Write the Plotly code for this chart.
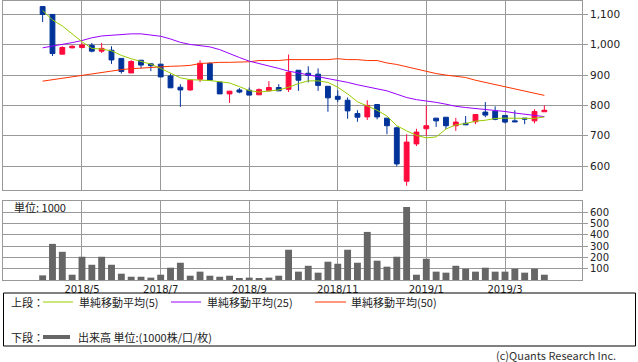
import plotly.graph_objects as go

W, H = 638, 362

dates = ["2018-04-09","2018-04-16","2018-04-23","2018-04-30","2018-05-07","2018-05-14","2018-05-21","2018-05-28",
         "2018-06-04","2018-06-11","2018-06-18","2018-06-25","2018-07-02","2018-07-09","2018-07-16","2018-07-23",
         "2018-07-30","2018-08-06","2018-08-13","2018-08-20","2018-08-27","2018-09-03","2018-09-10","2018-09-17",
         "2018-09-24","2018-10-01","2018-10-08","2018-10-15","2018-10-22","2018-10-29","2018-11-05","2018-11-12",
         "2018-11-19","2018-11-26","2018-12-03","2018-12-10","2018-12-17","2018-12-24","2018-12-31","2019-01-07",
         "2019-01-14","2019-01-21","2019-01-28","2019-02-04","2019-02-11","2019-02-18","2019-02-25","2019-03-04",
         "2019-03-11","2019-03-18","2019-03-25","2019-04-01"]

open_ = [1126,1100,969,990,991,998,979,982,955,907,949,937,936,897,860,851,886,938,877,838,851,850,835,848,859,853,
         916,906,903,863,830,817,773,762,803,758,726,550,673,723,758,761,733,741,746,778,781,767,749,758,749,779]
high = [1126,1100,995,998,1006,1006,1006,995,955,949,949,940,936,905,870,885,949,942,877,847,857,859,856,880,870,968,
        916,929,922,863,850,826,784,817,803,758,730,705,723,800,758,761,759,765,770,811,797,767,784,758,787,800]
low = [1075,963,969,988,988,975,973,937,905,907,922,913,894,858,795,848,877,883,838,808,840,834,835,848,848,844,
       848,876,848,779,811,756,746,752,754,705,599,535,666,699,729,722,716,736,738,761,751,741,746,738,741,779]
close = [1100,971,991,995,999,979,988,950,912,945,933,931,894,858,851,883,939,883,838,847,844,834,852,859,848,909,
         883,899,866,825,820,782,761,800,762,733,607,679,712,733,749,733,745,736,770,768,754,745,746,755,780,784]

ma5 = [1113,1082,1062,1036,1010,988,986,980,965,954,946,936,922,906,891,885,884,882,878,874,862,849,844,847,851,860,
       872,881,881,876,860,838,812,798,784,765,733,716,701,693,696,722,736,740,748,751,757,758,758,756,757,762]
ma25 = [990,995,1001,1007,1014,1023,1029,1032,1034,1036,1036,1033,1028,1019,1008,1001,998,993,984,970,958,946,937,930,
        922,913,907,901,896,889,884,876,868,862,856,848,837,826,819,815,810,804,797,793,790,786,782,780,775,771,768,763]
ma50 = [880,885,888,894,898,903,909,913,918,921,923,927,927,929,930,932,938,941,942,942,942,944,948,948,948,951,
        951,951,951,951,954,951,951,948,948,940,935,927,920,913,905,900,896,892,883,876,869,861,854,848,841,833]
volume = [41,320,250,47,206,135,206,135,56,29,29,21,47,109,153,38,74,38,29,38,12,21,12,21,38,268,74,126,65,
          162,144,268,153,426,171,118,206,647,47,188,74,65,126,100,74,109,74,74,100,65,100,47]

month_ticks = ["2018-05-07","2018-07-02","2018-09-03","2018-11-05","2019-01-07","2019-03-04"]
month_labels = ["2018/5","2018/7","2018/9","2018/11","2019/1","2019/3"]
price_ticks = [600,700,800,900,1000,1100]
price_labels = ["600","700","800","900","1,000","1,100"]
vol_ticks = [100,200,300,400,500,600]

RED = "#ff0a3c"
BLUE = "#003399"
C5 = "#99cc00"
C25 = "#9900ff"
C50 = "#ff3300"
GRID = "#999999"
TXT = "#222222"
FONT = "DejaVu Sans"
JFONT = "Noto Sans CJK JP"

fig = go.Figure()
fig.add_trace(go.Candlestick(
    x=dates, open=open_, high=high, low=low, close=close,
    increasing=dict(line=dict(color=RED, width=1), fillcolor=RED),
    decreasing=dict(line=dict(color=BLUE, width=1), fillcolor=BLUE),
    whiskerwidth=0, showlegend=False, hoverinfo="skip", xaxis="x", yaxis="y"))
for ma, col in [(ma50, C50), (ma25, C25), (ma5, C5)]:
    fig.add_trace(go.Scatter(x=dates, y=ma, mode="lines", line=dict(color=col, width=1),
                             showlegend=False, hoverinfo="skip", xaxis="x", yaxis="y"))
fig.add_trace(go.Bar(x=dates, y=volume, marker=dict(color="#666666", line=dict(width=0)),
                     width=7 * 0.7 * 86400000, showlegend=False, hoverinfo="skip",
                     xaxis="x2", yaxis="y2"))

xr = ["2018-03-11 19:00", "2019-04-27 19:00"]
xd = [3 / W, 582 / W]

def py(p):
    return 1 - p / H

common_x = dict(type="date", range=xr, domain=xd, tickvals=month_ticks, showgrid=True,
                gridcolor=GRID, gridwidth=1, showline=True, mirror=True, linecolor=GRID,
                linewidth=1, ticks="", zeroline=False)

fig.update_layout(
    width=W, height=H, margin=dict(l=0, r=0, t=0, b=0),
    paper_bgcolor="white", plot_bgcolor="white", showlegend=False,
    xaxis=dict(**common_x, anchor="y", showticklabels=False, rangeslider=dict(visible=False)),
    yaxis=dict(domain=[py(190), py(0.5)], range=[521, 1146], side="right", anchor="x",
               tickvals=price_ticks, ticktext=price_labels, ticks="outside", ticklen=5,
               tickcolor=GRID, showgrid=True, gridcolor=GRID, showline=True, mirror=True,
               linecolor=GRID, zeroline=False, tickfont=dict(family=FONT, size=10.5, color=TXT)),
    xaxis2=dict(**common_x, anchor="y2", showticklabels=True, ticktext=month_labels,
                tickfont=dict(family=FONT, size=10, color=TXT)),
    yaxis2=dict(domain=[py(280), py(201)], range=[0, 700], side="right", anchor="x2",
                tickvals=vol_ticks, ticks="outside", ticklen=5, tickcolor=GRID,
                showgrid=True, gridcolor=GRID, showline=True, mirror=True, linecolor=GRID,
                zeroline=False, tickfont=dict(family=FONT, size=10, color=TXT)),
)

shapes = [
    dict(type="rect", xref="paper", yref="paper", x0=3.5 / W, x1=635.5 / W, y0=py(346), y1=py(293),
         line=dict(color="#000000", width=1), fillcolor="rgba(0,0,0,0)"),
    dict(type="line", xref="paper", yref="paper", x0=43 / W, x1=73 / W, y0=py(302), y1=py(302),
         line=dict(color=C5, width=1)),
    dict(type="line", xref="paper", yref="paper", x0=171 / W, x1=201 / W, y0=py(302), y1=py(302),
         line=dict(color=C25, width=1)),
    dict(type="line", xref="paper", yref="paper", x0=315 / W, x1=346 / W, y0=py(302), y1=py(302),
         line=dict(color=C50, width=1)),
    dict(type="line", xref="paper", yref="paper", x0=43 / W, x1=70 / W, y0=py(337), y1=py(337),
         line=dict(color="#666666", width=4)),
]
fig.update_layout(shapes=shapes)

def ann(text, x, y, size=11, xanchor="left", color=TXT, family=JFONT):
    return dict(text=text, x=x / W, y=py(y), xref="paper", yref="paper", xanchor=xanchor,
                yanchor="middle", showarrow=False, font=dict(family=family, size=size, color=color))

fig.update_layout(annotations=[
    ann("単位: 1000", 12, 207),
    ann("上段：", 9, 302),
    ann("単純移動平均(5)", 77, 302),
    ann("単純移動平均(25)", 205, 302),
    ann("単純移動平均(50)", 349, 302),
    ann("下段：", 9, 337),
    ann("出来高 単位:(1000株/口/枚)", 76, 337),
    ann("(c)Quants Research Inc.", 618, 355, xanchor="right", color="#333333"),
])

fig.write_html("out.html", config={"displayModeBar": False},
               post_script="document.body.style.margin='0px';")
